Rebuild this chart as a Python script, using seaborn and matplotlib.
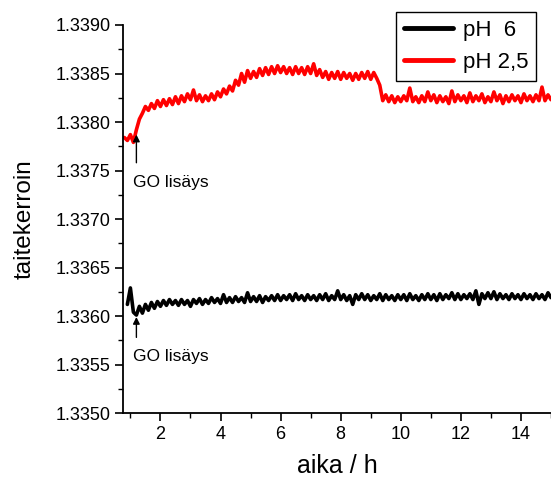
import numpy as np
import pandas as pd
import matplotlib
matplotlib.use("Agg")
import matplotlib.pyplot as plt
import seaborn as sns
from matplotlib.ticker import MultipleLocator, FormatStrFormatter

# --- data ---
series_labels = ["pH  6", "pH 2,5"]
series_colors = ["black", "red"]

ph6_start, ph6_step = 0.9, 0.1
ph6_values = [
    1.33612, 1.33629, 1.33604, 1.33601, 1.33610, 1.33603, 1.33612, 1.33606, 1.33614, 1.33608,
    1.33615, 1.33610, 1.33616, 1.33611, 1.33617, 1.33612, 1.33616, 1.33611, 1.33617, 1.33612,
    1.33616, 1.33610, 1.33617, 1.33613, 1.33618, 1.33612, 1.33617, 1.33613, 1.33619, 1.33614,
    1.33618, 1.33613, 1.33622, 1.33614, 1.33619, 1.33614, 1.33620, 1.33615, 1.33619, 1.33614,
    1.33624, 1.33615, 1.33620, 1.33615, 1.33621, 1.33614, 1.33620, 1.33616, 1.33621, 1.33616,
    1.33622, 1.33616, 1.33621, 1.33617, 1.33622, 1.33616, 1.33623, 1.33617, 1.33621, 1.33616,
    1.33622, 1.33617, 1.33621, 1.33616, 1.33622, 1.33617, 1.33623, 1.33616, 1.33621, 1.33617,
    1.33626, 1.33617, 1.33622, 1.33616, 1.33621, 1.33612, 1.33622, 1.33617, 1.33623, 1.33617,
    1.33622, 1.33616, 1.33621, 1.33617, 1.33623, 1.33616, 1.33622, 1.33617, 1.33621, 1.33616,
    1.33622, 1.33617, 1.33622, 1.33616, 1.33623, 1.33617, 1.33621, 1.33616, 1.33622, 1.33617,
    1.33623, 1.33617, 1.33622, 1.33616, 1.33623, 1.33617, 1.33622, 1.33618, 1.33624, 1.33617,
    1.33623, 1.33617, 1.33622, 1.33618, 1.33623, 1.33617, 1.33626, 1.33612, 1.33623, 1.33618,
    1.33624, 1.33618, 1.33625, 1.33617, 1.33623, 1.33618, 1.33622, 1.33617, 1.33623, 1.33618,
    1.33622, 1.33617, 1.33623, 1.33618, 1.33622, 1.33617, 1.33623, 1.33618, 1.33622, 1.33617,
    1.33624, 1.33619,
]

ph25_start, ph25_step = 0.8, 0.1
ph25_values = [
    1.33784, 1.33781, 1.33787, 1.33779, 1.33792, 1.33803, 1.33809, 1.33816, 1.33812, 1.33819,
    1.33814, 1.33822, 1.33816, 1.33823, 1.33817, 1.33824, 1.33818, 1.33826, 1.33819, 1.33827,
    1.33821, 1.33829, 1.33823, 1.33833, 1.33822, 1.33828, 1.33821, 1.33827, 1.33822, 1.33829,
    1.33823, 1.33831, 1.33826, 1.33834, 1.33829, 1.33837, 1.33832, 1.33843, 1.33838, 1.33850,
    1.33841, 1.33853, 1.33845, 1.33852, 1.33846, 1.33855, 1.33848, 1.33856, 1.33849, 1.33857,
    1.33850, 1.33858, 1.33851, 1.33857, 1.33850, 1.33856, 1.33849, 1.33857, 1.33850, 1.33856,
    1.33849, 1.33857, 1.33850, 1.33860, 1.33848, 1.33854, 1.33846, 1.33852, 1.33844, 1.33851,
    1.33845, 1.33852, 1.33844, 1.33851, 1.33845, 1.33850, 1.33843, 1.33850, 1.33844, 1.33851,
    1.33845, 1.33852, 1.33844, 1.33851, 1.33845, 1.33838, 1.33822, 1.33828, 1.33821, 1.33827,
    1.33820, 1.33826, 1.33821, 1.33827, 1.33822, 1.33835, 1.33821, 1.33826, 1.33820, 1.33827,
    1.33821, 1.33831, 1.33822, 1.33828, 1.33820, 1.33827, 1.33821, 1.33826, 1.33819, 1.33832,
    1.33821, 1.33828, 1.33822, 1.33827, 1.33820, 1.33830, 1.33821, 1.33827, 1.33822, 1.33829,
    1.33820, 1.33826, 1.33821, 1.33831, 1.33822, 1.33828, 1.33819, 1.33827, 1.33821, 1.33828,
    1.33822, 1.33827, 1.33820, 1.33829, 1.33822, 1.33827, 1.33821, 1.33828, 1.33822, 1.33836,
    1.33822, 1.33828, 1.33823,
]

annotation_text = "GO lisäys"
annotation_x = [1.2, 1.2]          # arrow x for pH 2,5 and pH 6
annotation_tip = [1.33787, 1.33599]
annotation_tail = [1.33758, 1.33578]
annotation_label_y = [1.33738, 1.33558]

x_label = "aika / h"
y_label = "taitekerroin"

# --- build long table ---
frames = []
for label, start, step, vals in [
    (series_labels[0], ph6_start, ph6_step, ph6_values),
    (series_labels[1], ph25_start, ph25_step, ph25_values),
]:
    t = start + step * np.arange(len(vals))
    frames.append(pd.DataFrame({"aika": t, "n": vals, "sarja": label}))
df = pd.concat(frames, ignore_index=True)

sns.set_theme(style="ticks")
plt.rcParams["font.family"] = ["Liberation Sans", "DejaVu Sans"]
plt.rcParams["text.color"] = "black"
plt.rcParams["axes.labelcolor"] = "black"

fig = plt.figure(figsize=(5.51, 4.90), dpi=100)
ax = fig.add_axes([0.223, 0.157, 0.777, 0.792])

sns.lineplot(data=df, x="aika", y="n", hue="sarja", hue_order=series_labels,
             palette=dict(zip(series_labels, series_colors)),
             estimator=None, sort=False, linewidth=2.6, ax=ax)

ax.set_xlim(0.75, 15.0)
ax.set_ylim(1.3350, 1.3390)
ax.xaxis.set_major_locator(MultipleLocator(2))
ax.xaxis.set_minor_locator(MultipleLocator(1))
ax.yaxis.set_major_locator(MultipleLocator(0.0005))
ax.yaxis.set_minor_locator(MultipleLocator(0.00025))
ax.yaxis.set_major_formatter(FormatStrFormatter("%.4f"))

for s in ["top", "right"]:
    ax.spines[s].set_visible(False)
for s in ["left", "bottom"]:
    ax.spines[s].set_linewidth(1.3)
    ax.spines[s].set_color("black")

ax.tick_params(which="major", direction="out", length=6, width=1.2, labelsize=13,
               colors="black", pad=3)
ax.tick_params(which="minor", direction="out", length=3.5, width=1.0, colors="black")

ax.set_xlabel(x_label, fontsize=18, labelpad=8, color="black")
ax.set_ylabel(y_label, fontsize=17.5, labelpad=14, color="black")

for xa, tip, tail, ly in zip(annotation_x, annotation_tip, annotation_tail, annotation_label_y):
    ax.annotate("", xy=(xa, tip), xytext=(xa, tail),
                arrowprops=dict(arrowstyle="-|>", color="black", lw=1.0,
                                mutation_scale=10, shrinkA=0, shrinkB=0))
    ax.text(xa - 0.1, ly, annotation_text, fontsize=12.5, ha="left", va="center",
            color="black")

leg = ax.legend(loc="upper right", bbox_to_anchor=(0.965, 1.033), fontsize=16,
                frameon=True, fancybox=False, edgecolor="black", framealpha=1,
                handlelength=2.2, handletextpad=0.45, borderpad=0.35, labelspacing=0.5,
                borderaxespad=0)
leg.get_frame().set_linewidth(1.0)
for h in leg.get_lines():
    h.set_linewidth(3.5)
for t in leg.get_texts():
    t.set_color("black")

fig.savefig("out.png", dpi=100)
